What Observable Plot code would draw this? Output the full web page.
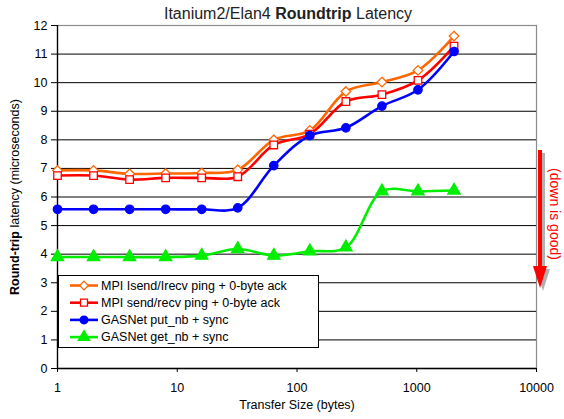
<!DOCTYPE html>
<html>
<head>
<meta charset="utf-8">
<script src="https://cdn.jsdelivr.net/npm/d3@7"></script>
<script src="https://cdn.jsdelivr.net/npm/@observablehq/plot@0.6"></script>
<style>
  html, body { margin: 0; padding: 0; background: #fff; }
  #chart { width: 564px; height: 419px; }
</style>
</head>
<body>
<div id="chart"></div>
<script>
// ---- data ----
const sizes = [1, 2, 4, 8, 16, 32, 64, 128, 256, 512, 1024, 2048];
const seriesNames = [
  "MPI Isend/Irecv ping + 0-byte ack",
  "MPI send/recv ping + 0-byte ack",
  "GASNet put_nb + sync",
  "GASNet get_nb + sync"
];
const mpiIsendIrecv = [6.93, 6.93, 6.81, 6.82, 6.84, 6.95, 8.0, 8.33, 9.69, 10.02, 10.43, 11.63];
const mpiSendRecv   = [6.75, 6.75, 6.61, 6.67, 6.67, 6.71, 7.82, 8.2, 9.34, 9.58, 10.08, 11.28];
const gasnetPut     = [5.57, 5.57, 5.57, 5.57, 5.57, 5.62, 7.1, 8.15, 8.42, 9.18, 9.75, 11.09];
const gasnetGet     = [3.9, 3.9, 3.9, 3.9, 3.95, 4.18, 3.95, 4.1, 4.24, 6.2, 6.2, 6.23];
const xTicks = [1, 10, 100, 1000, 10000];
const yTicks = [0, 1, 2, 3, 4, 5, 6, 7, 8, 9, 10, 11, 12];

// ---- styles ----
const colors  = ["#FF6600", "#FF0000", "#0000FF", "#00EE00"];
const symbols = ["diamond2", "square2", "circle", "triangle"];
const fills   = ["white", "white", "#0000FF", "#00EE00"];
const radii   = [4.3, 4.8, 4.2, 4.6];
const values  = [mpiIsendIrecv, mpiSendRecv, gasnetPut, gasnetGet];

const font = "'Liberation Sans', Arial, Helvetica, sans-serif";

const marks = [
  Plot.frame({stroke: "#8c8c8c", strokeWidth: 1.2}),
  Plot.ruleY(yTicks.filter(d => d > 0 && d < 12), {stroke: "#000", strokeWidth: 1}),
  Plot.axisY({ticks: yTicks, tickSize: 6, tickPadding: 4, tickFormat: d => String(d), label: null, fontSize: 12.5}),
  Plot.axisX({ticks: xTicks, tickSize: 4, tickPadding: 11, tickFormat: d => String(d), fontSize: 12.5,
              label: "Transfer Size (bytes)", labelAnchor: "center", labelArrow: "none", labelOffset: 40}),
  Plot.ruleX([1], {stroke: "#000", strokeWidth: 1.3}),
  Plot.ruleY([0], {stroke: "#000", strokeWidth: 1.3})
];
values.forEach((vals, i) => {
  const rows = sizes.map((s, j) => ({size: s, value: vals[j]}));
  marks.push(Plot.line(rows, {x: "size", y: "value", stroke: colors[i], strokeWidth: 2.6, curve: "catmull-rom"}));
  marks.push(Plot.dot(rows, {x: "size", y: "value", symbol: symbols[i], r: radii[i], stroke: colors[i],
                             strokeWidth: 1.3, fill: fills[i]}));
});

const chart = Plot.plot({
  width: 564, height: 419,
  marginLeft: 57, marginRight: 28, marginTop: 25, marginBottom: 51,
  x: {type: "log", domain: [1, 10000]},
  y: {domain: [0, 12]},
  style: {fontFamily: font, fontSize: "12.5px", color: "#000", background: "white", overflow: "visible"},
  marks
});
document.getElementById("chart").appendChild(chart);

const svg = d3.select(chart);

// title
const title = svg.append("text")
  .attr("x", 288).attr("y", 19)
  .attr("text-anchor", "middle")
  .style("font-family", font).style("font-size", "16px").attr("fill", "#222");
title.append("tspan").text("Itanium2/Elan4 ");
title.append("tspan").attr("font-weight", "bold").text("Roundtrip");
title.append("tspan").text(" Latency");

// y-axis label
const ylab = svg.append("text")
  .attr("transform", "translate(19,197) rotate(-90)")
  .attr("text-anchor", "middle")
  .style("font-family", font).style("font-size", "12.5px").attr("fill", "#000");
ylab.append("tspan").attr("font-weight", "bold").text("Round-trip");
ylab.append("tspan").text(" latency (microseconds)");

// legend
const lg = svg.append("g");
lg.append("rect").attr("x", 58.5).attr("y", 275.5).attr("width", 260).attr("height", 72)
  .attr("fill", "white").attr("stroke", "#000").attr("stroke-width", 1);
const symMap = {diamond2: d3.symbolDiamond2, square2: d3.symbolSquare2, circle: d3.symbolCircle, triangle: d3.symbolTriangle};
seriesNames.forEach((name, i) => {
  const y = 285.5 + i * 17.2;
  lg.append("line").attr("x1", 70).attr("x2", 98).attr("y1", y).attr("y2", y)
    .attr("stroke", colors[i]).attr("stroke-width", 2.6);
  lg.append("path").attr("transform", `translate(84,${y})`)
    .attr("d", d3.symbol(symMap[symbols[i]], Math.PI * radii[i] * radii[i] * 0.85)())
    .attr("fill", fills[i]).attr("stroke", colors[i]).attr("stroke-width", 1.3);
  lg.append("text").attr("x", 101).attr("y", y).attr("dy", "0.35em")
    .attr("text-anchor", "start")
    .style("font-family", font).style("font-size", "12.5px").attr("fill", "#000").text(name);
});

// "down is good" annotation
const ann = svg.append("g");
const arrow = (g, color, dx, dy) => {
  g.append("line").attr("x1", 540 + dx).attr("x2", 540 + dx).attr("y1", 150 + dy).attr("y2", 268 + dy)
    .attr("stroke", color).attr("stroke-width", 4);
  g.append("path").attr("d", `M${533 + dx},${266 + dy} L${547 + dx},${266 + dy} L${540 + dx},${288 + dy} Z`)
    .attr("fill", color);
};
arrow(ann, "#b0b0b0", 3, 3);
arrow(ann, "#FF0000", 0, 0);
svg.append("text")
  .attr("transform", "translate(550,214) rotate(90)")
  .attr("text-anchor", "middle")
  .style("font-family", font).style("font-size", "14px").attr("fill", "#FF0000")
  .text("(down is good)");
</script>
</body>
</html>
